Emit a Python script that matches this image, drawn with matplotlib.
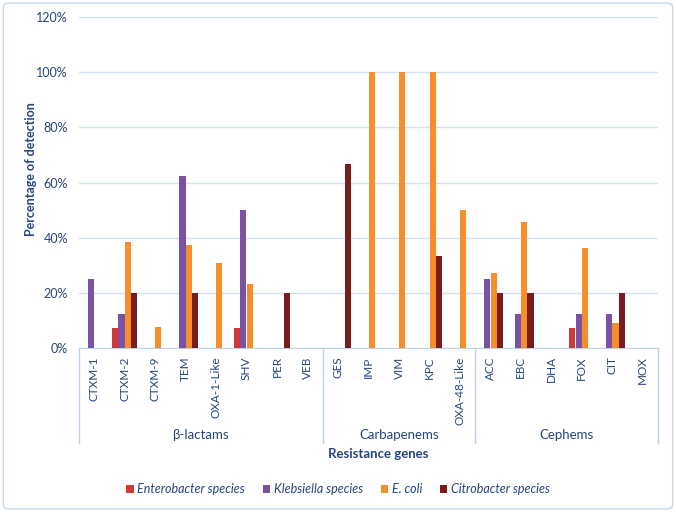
import matplotlib
matplotlib.use('Agg')
import matplotlib.pyplot as plt
import matplotlib.transforms as mtransforms
from matplotlib.patches import FancyBboxPatch
import numpy as np

plt.rcParams['font.family'] = ['Lato', 'DejaVu Sans']

genes = ['CTXM-1', 'CTXM-2', 'CTXM-9', 'TEM', 'OXA-1-Like', 'SHV', 'PER', 'VEB',
         'GES', 'IMP', 'VIM', 'KPC', 'OXA-48-Like',
         'ACC', 'EBC', 'DHA', 'FOX', 'CIT', 'MOX']
groups = ['β-lactams', 'Carbapenems', 'Cephems']
group_sizes = [8, 5, 6]

series = ['Enterobacter species', 'Klebsiella species', 'E. coli', 'Citrobacter species']
enterobacter = [0, 7.1, 0, 0, 0, 7.1, 0, 0, 0, 0, 0, 0, 0, 0, 0, 0, 7.1, 0, 0]
klebsiella = [25, 12.5, 0, 62.5, 0, 50, 0, 0, 0, 0, 0, 0, 0, 25, 12.5, 0, 12.5, 12.5, 0]
ecoli = [0, 38.5, 7.7, 37.5, 30.8, 23.1, 0, 0, 0, 100, 100, 100, 50, 27.3, 45.5, 0, 36.4, 9.1, 0]
citrobacter = [0, 20, 0, 20, 0, 0, 20, 0, 66.7, 0, 0, 33.3, 0, 20, 20, 0, 0, 20, 0]
colors = ['#d0383a', '#7b52a3', '#f68e2c', '#7a1b1d']

txt = '#26457d'
grid_c = '#d5e1f2'
line_c = '#bfd2ec'

fig = plt.figure(figsize=(6.76, 5.12), dpi=100)
ax = fig.add_axes([79 / 676, 1 - 348 / 512, (658 - 79) / 676, (348 - 17) / 512])

x = np.arange(len(genes))
w = 0.2
offsets = [-0.315, -0.105, 0.105, 0.315]
for vals, off, c, lab in zip([enterobacter, klebsiella, ecoli, citrobacter], offsets, colors, series):
    ax.bar(x + off, vals, w, color=c, label=lab, zorder=3)

ax.set_xlim(-0.5, len(genes) - 0.5)
ax.set_ylim(0, 120)
ax.set_yticks(np.arange(0, 121, 20))
ax.set_yticklabels([f'{v}%' for v in range(0, 121, 20)], fontsize=9, color=txt)
ax.yaxis.grid(True, color=grid_c, linewidth=1, zorder=0)
ax.tick_params(axis='y', length=0, pad=8)
ax.set_xticks(x)
ax.set_xticklabels(genes, rotation=90, fontsize=8.5, color=txt)
ax.tick_params(axis='x', length=0, pad=6)
for s in ['top', 'right', 'left']:
    ax.spines[s].set_visible(False)
ax.spines['bottom'].set_color(line_c)

trans = mtransforms.blended_transform_factory(ax.transData, ax.transAxes)
bounds = np.concatenate([[0], np.cumsum(group_sizes)]) - 0.5
for b in bounds:
    ax.plot([b, b], [0, -0.288], color=line_c, linewidth=1, transform=trans, clip_on=False)
for i, g in enumerate(groups):
    ax.text((bounds[i] + bounds[i + 1]) / 2, -0.262, g, transform=trans,
            ha='center', va='center', fontsize=9.5, color=txt)

fig.text(378 / 676, 1 - 454 / 512, 'Resistance genes', ha='center', va='center',
         fontsize=9.5, fontweight='bold', color=txt)
fig.text(31 / 676, 1 - 169 / 512, 'Percentage of detection', ha='center', va='center',
         rotation=90, fontsize=9, fontweight='bold', color=txt)

leg = fig.legend(loc='center', bbox_to_anchor=(0.5, 1 - 489 / 512), ncol=4, frameon=False,
                 handlelength=0.6, handleheight=0.6, handletextpad=0.3, columnspacing=1.4,
                 prop={'size': 9, 'style': 'italic'})
for t in leg.get_texts():
    t.set_color(txt)

fig.patches.append(FancyBboxPatch((0.005, 0.006), 0.99, 0.988,
                                  boxstyle='round,pad=0,rounding_size=0.008',
                                  transform=fig.transFigure, fill=False,
                                  edgecolor='#c9d8ec', linewidth=1))

fig.savefig('out.png', dpi=100)
